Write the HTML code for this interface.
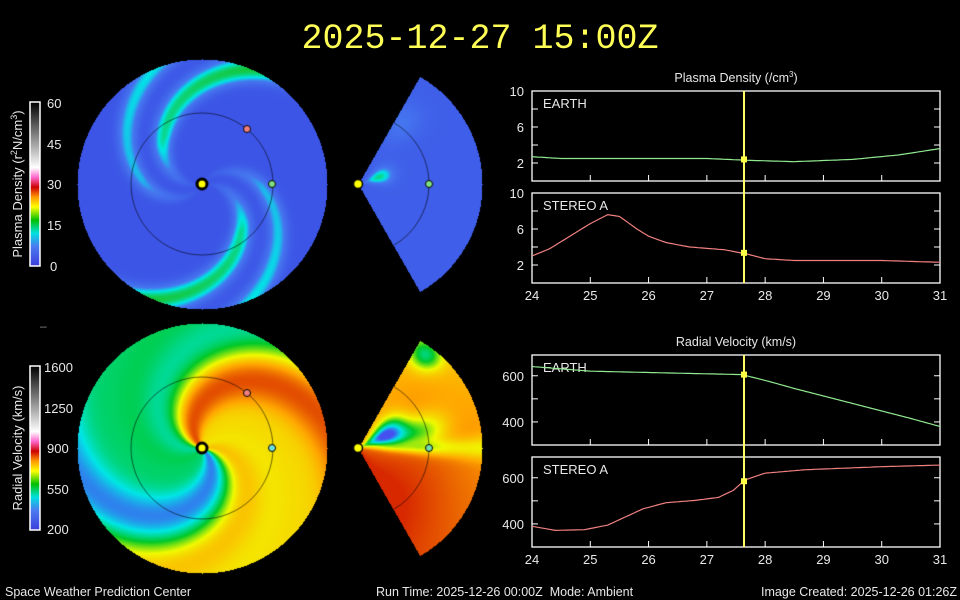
<!DOCTYPE html>
<html><head><meta charset="utf-8"><style>
html,body{margin:0;padding:0;background:#000;width:960px;height:600px;overflow:hidden}
#c{position:absolute;left:0;top:0}
svg{position:absolute;left:0;top:0}
text{font-family:"Liberation Sans",sans-serif;fill:#e8e8e8}
</style></head><body>
<canvas id="c" width="960" height="600"></canvas>
<svg id="s" width="960" height="600" xmlns="http://www.w3.org/2000/svg">
<defs>
<linearGradient id="cb" x1="0" y1="1" x2="0" y2="0">
<stop offset="0" stop-color="#3c3cdc"/><stop offset="0.12" stop-color="#4a7cf0"/><stop offset="0.2" stop-color="#00e0e0"/><stop offset="0.28" stop-color="#00c000"/><stop offset="0.36" stop-color="#ffff00"/><stop offset="0.42" stop-color="#ff9900"/><stop offset="0.48" stop-color="#cc0000"/><stop offset="0.54" stop-color="#ff66cc"/><stop offset="0.6" stop-color="#ffffff"/><stop offset="1" stop-color="#000000"/>
</linearGradient>
</defs>
<text x="480" y="48" text-anchor="middle" style="font-family:'Liberation Mono',monospace;font-size:35px;fill:#ffff55">2025-12-27 15:00Z</text>
<rect x="30" y="102" width="10" height="164" fill="url(#cb)" stroke="#fff" stroke-width="1.5"/>
<rect x="30" y="366" width="10" height="164" fill="url(#cb)" stroke="#fff" stroke-width="1.5"/>
<g font-size="13">
<text x="47" y="108">60</text><text x="47" y="149">45</text><text x="47" y="189">30</text><text x="47" y="230">15</text><text x="50" y="271">0</text>
<text x="44" y="372">1600</text><text x="44" y="413">1250</text><text x="47" y="453">900</text><text x="47" y="494">550</text><text x="47" y="534">200</text>
</g>
<text transform="translate(22,184) rotate(-90)" text-anchor="middle" font-size="13">Plasma Density (r<tspan dy="-5" font-size="9">2</tspan><tspan dy="5">N/cm</tspan><tspan dy="-5" font-size="9">3</tspan><tspan dy="5">)</tspan></text>
<text transform="translate(22,448) rotate(-90)" text-anchor="middle" font-size="13">Radial Velocity (km/s)</text>
<text x="40" y="330" font-size="12" style="fill:#888">–</text>
<g id="charts"></g>
<text x="5" y="596" font-size="12.5">Space Weather Prediction Center</text>
<text x="376" y="596" font-size="12.5" xml:space="preserve">Run Time: 2025-12-26 00:00Z  Mode: Ambient</text>
<text x="957" y="596" font-size="12.5" text-anchor="end">Image Created: 2025-12-26 01:26Z</text>
</svg>
<script>
const cv=document.getElementById('c'),ctx=cv.getContext('2d');
const img=ctx.createImageData(960,600),D=img.data;
function lerp(a,b,t){return a+(b-a)*t}
function cmap(stops,t){t=Math.max(0,Math.min(1,t));for(let i=1;i<stops.length;i++){if(t<=stops[i][0]){const a=stops[i-1],b=stops[i],u=(t-a[0])/(b[0]-a[0]);return [lerp(a[1],b[1],u),lerp(a[2],b[2],u),lerp(a[3],b[3],u)];}}const l=stops[stops.length-1];return [l[1],l[2],l[3]];}
const dens=[[0,60,85,230],[0.45,70,120,240],[0.7,0,230,230],[1,20,200,60]];
const vel=[[0,70,80,240],[0.2,0,230,230],[0.4,0,200,40],[0.6,240,250,0],[0.78,255,165,0],[1,215,40,0]];
function put(x,y,c){const i=(y*960+x)*4;D[i]=c[0];D[i+1]=c[1];D[i+2]=c[2];D[i+3]=255;}
const K=0.017;
function densVal(r,th){const ph=th-K*r;let a=Math.pow(Math.max(0,Math.cos(2*ph+0.3)),8);let b=Math.pow(Math.max(0,Math.cos(2*ph+1.9)),12)*0.7;return Math.min(1,(a+b)*Math.min(1,r/60)*(0.7+0.3*r/125));}
function velVal(r,th){const ph=th-K*r;let v=0.5+0.3*Math.cos(ph+1.7)+0.16*Math.cos(3*ph+0.8)+0.05*Math.cos(5*ph);return v;}
for(let y=0;y<600;y++)for(let x=0;x<960;x++){
 for(const [cy,type] of [[184,0],[448,1]]){
  let dx=x-202,dy=y-cy,r=Math.hypot(dx,dy);
  if(r<=125){const th=Math.atan2(dy,dx);put(x,y,type?cmap(vel,velVal(r,th)):cmap(dens,densVal(r,th)));}
  dx=x-358;r=Math.hypot(dx,dy);
  if(r<=124&&dx>0){const th=Math.atan2(dy,dx);if(Math.abs(th)<=1.05){
   if(!type){let blob=Math.exp(-((r-22)**2)/200-((th+0.35)**2)/0.1)+0.4*Math.exp(-((r-75)**2)/500-((th+0.95)**2)/0.05);put(x,y,cmap(dens,0.12+0.75*blob));}
   else{let v=0.86+0.12*th+0.05*Math.sin(r/30);let bl=Math.exp(-((r-30)**2)/500-((th+0.45)**2)/0.12);let g=Math.exp(-((r-65)**2)/700-((th+0.25)**2)/0.06);let tg=Math.exp(-((r-115)**2)/200-((th+0.95)**2)/0.02);let ey=Math.exp(-((th-0.0)**2)/0.01)*Math.min(1,r/60)*0.2;v=v-0.9*bl-0.35*g-0.4*tg-ey;put(x,y,cmap(vel,v));}
  }}
 }
}
ctx.putImageData(img,0,0);
ctx.strokeStyle='rgba(0,0,0,0.7)';ctx.lineWidth=0.8;
for(const cy of [184,448]){ctx.beginPath();ctx.arc(202,cy,71,0,7);ctx.stroke();ctx.beginPath();ctx.arc(358,cy,71,-1.05,1.05);ctx.stroke();}
function dot(x,y,r,c,w){ctx.beginPath();ctx.arc(x,y,r,0,7);ctx.fillStyle=c;ctx.fill();ctx.lineWidth=w;ctx.strokeStyle='#000';ctx.stroke();}
for(const cy of [184,448]){dot(202,cy,5,'#ffff00',3);dot(358,cy,4.5,'#ffff00',1.5);dot(429,cy,3.5,cy==184?'#80e080':'#70e0b0',1);dot(272,cy,3.5,cy==184?'#80e080':'#70e0e0',1);dot(247,cy-55,3.5,'#f08080',1);}
const g=document.getElementById('charts');let h='';
const X=d=>532+(d-24)*408/7;
function panel(top,lab,ylab,yf){h+=`<rect x="532" y="${top}" width="408" height="90" fill="none" stroke="#fff" stroke-width="1.3"/>`;
 h+=`<text x="543" y="${top+17}" font-size="13">${lab}</text>`;
 for(let d=25;d<31;d++)h+=`<line x1="${X(d)}" y1="${top+90}" x2="${X(d)}" y2="${top+84}" stroke="#fff"/>`;
 for(const [v,s] of ylab){const y=yf(v);h+=`<line x1="532" y1="${y}" x2="538" y2="${y}" stroke="#fff"/><line x1="934" y1="${y}" x2="940" y2="${y}" stroke="#fff"/>`;if(s)h+=`<text x="524" y="${y+5}" font-size="13" text-anchor="end">${v}</text>`;}}
function line(pts,yf,c){let s=[];for(let i=0;i<pts.length-1;i++){const [a,va]=pts[i],[b,vb]=pts[i+1];for(let d=a;d<b;d+=0.05){s.push(X(d).toFixed(1)+','+yf(va+(vb-va)*(d-a)/(b-a)).toFixed(1));}}s.push(X(31)+','+yf(pts[pts.length-1][1]).toFixed(1));h+=`<polyline points="${s.join(' ')}" fill="none" stroke="${c}" stroke-width="1.2"/>`;}
const d1=v=>181-v*9,d2=v=>283-v*9,v1=v=>445-(v-300)*90/390,v2=v=>547-(v-300)*90/390;
const dl=[[2,1],[4,0],[6,1],[8,0],[10,1]],vl=[[400,1],[500,0],[600,1]];
h+=`<text x="736" y="82" font-size="12.5" text-anchor="middle">Plasma Density (/cm<tspan dy="-5" font-size="8">3</tspan><tspan dy="5">)</tspan></text>`;
h+=`<text x="736" y="346" font-size="12.5" text-anchor="middle">Radial Velocity (km/s)</text>`;
panel(91,'EARTH',dl,d1);panel(193,'STEREO A',dl,d2);panel(355,'EARTH',vl,v1);panel(457,'STEREO A',vl,v2);
line([[24,2.7],[24.5,2.5],[27,2.5],[27.7,2.3],[28.5,2.15],[29.5,2.4],[30.3,2.9],[31,3.6]],d1,'#90e890');
line([[24,3],[24.3,3.8],[24.6,5],[25,6.6],[25.3,7.6],[25.5,7.4],[25.8,6],[26,5.2],[26.3,4.5],[26.7,4],[27.3,3.7],[27.7,3.2],[28,2.7],[28.5,2.5],[30,2.5],[31,2.3]],d2,'#f08080');
line([[24,640],[25,620],[27.6,605],[28,580],[28.5,545],[29.5,480],[30.5,415],[31,380]],v1,'#90e890');
line([[24,390],[24.4,372],[24.9,375],[25.3,395],[25.6,430],[25.9,465],[26.3,492],[26.8,502],[27.2,515],[27.45,545],[27.65,590],[28,620],[28.7,635],[30,648],[31,655]],v2,'#f08080');
for(const [a,b] of [[91,283],[355,547]])h+=`<line x1="744" y1="${a}" x2="744" y2="${b}" stroke="#ffff66" stroke-width="2"/>`;
h+=`<rect x="741" y="${d1(2.4)-3}" width="6" height="6" fill="#ffff44"/><rect x="741" y="${d2(3.35)-3}" width="6" height="6" fill="#ffff44"/><rect x="741" y="${v1(605)-3}" width="6" height="6" fill="#ffff44"/><rect x="741" y="${v2(585)-3}" width="6" height="6" fill="#ffff44"/>`;
for(const [top] of [[283],[547]])for(let d=24;d<=31;d++)h+=`<text x="${X(d)}" y="${top+17}" font-size="13" text-anchor="middle">${d}</text>`;
g.innerHTML=h;
</script>
</body></html>
